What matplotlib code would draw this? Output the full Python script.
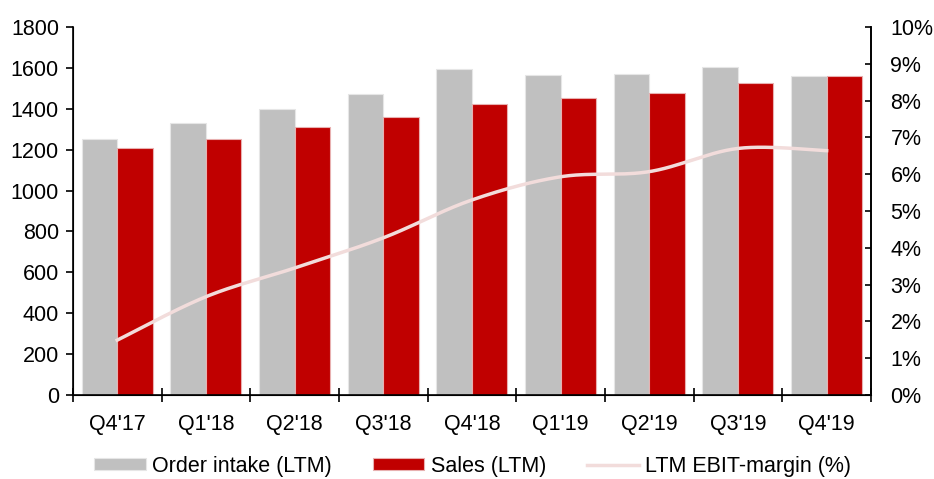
import numpy as np
import matplotlib.pyplot as plt
from matplotlib.ticker import FuncFormatter

plt.rcParams['font.family'] = ['Liberation Sans', 'DejaVu Sans']

quarters = ["Q4'17", "Q1'18", "Q2'18", "Q3'18", "Q4'18", "Q1'19", "Q2'19", "Q3'19", "Q4'19"]
order_intake = [1252, 1332, 1399, 1472, 1595, 1565, 1572, 1606, 1560]
sales = [1207, 1254, 1311, 1360, 1423, 1453, 1476, 1528, 1562]
ebit_margin = [1.49, 2.67, 3.45, 4.27, 5.30, 5.93, 6.07, 6.70, 6.64]


def smooth(xs, ys, n=30):
    # Excel-style smoothed line (Catmull-Rom through the points)
    xs = np.asarray(xs, float)
    ys = np.asarray(ys, float)
    px = np.concatenate([[xs[0]], xs, [xs[-1]]])
    py = np.concatenate([[ys[0]], ys, [ys[-1]]])
    ox, oy = [], []
    for i in range(1, len(px) - 2):
        t = np.linspace(0, 1, n)
        p0, p1, p2, p3 = px[i-1], px[i], px[i+1], px[i+2]
        q0, q1, q2, q3 = py[i-1], py[i], py[i+1], py[i+2]
        b1x, b1y = p1 + (p2 - p0) / 6, q1 + (q2 - q0) / 6
        b2x, b2y = p2 - (p3 - p1) / 6, q2 - (q3 - q1) / 6
        ox.append((1-t)**3*p1 + 3*(1-t)**2*t*b1x + 3*(1-t)*t**2*b2x + t**3*p2)
        oy.append((1-t)**3*q1 + 3*(1-t)**2*t*b1y + 3*(1-t)*t**2*b2y + t**3*q2)
    return np.concatenate(ox), np.concatenate(oy)


fs = 15.5
fig = plt.figure(figsize=(9.34, 4.79), dpi=100)
ax = fig.add_axes([0.078, 0.1754, 0.8545, 0.7682])
x = np.arange(len(quarters))
w = 0.4

ax.bar(x - w/2, order_intake, w, color='#C0C0C0', edgecolor='#E6E6E6', linewidth=0.8, label='Order intake (LTM)')
ax.bar(x + w/2, sales, w, color='#C00000', edgecolor='#E8B0B0', linewidth=0.8, label='Sales (LTM)')
ax.set_xlim(-0.5, len(quarters) - 0.5)
ax.set_ylim(0, 1800)
ax.set_yticks(range(0, 1801, 200))
ax.set_xticks(np.arange(-0.5, len(quarters), 1))
ax.set_xticklabels([])
ax.set_xticks(x, minor=True)
ax.set_xticklabels(quarters, minor=True)
ax.tick_params(axis='x', which='major', direction='inout', length=10, width=1.2)
ax.tick_params(axis='x', which='minor', length=0, pad=14, labelsize=fs)
ax.tick_params(axis='y', direction='out', length=5, width=1.2, labelsize=fs, pad=5)
ax.spines['top'].set_visible(False)
for s in ['left', 'right', 'bottom']:
    ax.spines[s].set_linewidth(1.2)

ax2 = ax.twinx()
sx, sy = smooth(x, ebit_margin)
ax2.plot(sx, sy, color='#F2DCDB', linewidth=2.5, label='LTM EBIT-margin (%)')
ax2.set_ylim(0, 10)
ax2.set_yticks(range(0, 11))
ax2.yaxis.set_major_formatter(FuncFormatter(lambda v, p: '%d%%' % v))
ax2.tick_params(axis='y', direction='in', length=4, width=1.2, labelsize=fs, pad=14)
ax2.spines['top'].set_visible(False)
ax2.spines['right'].set_linewidth(1.2)

h1, l1 = ax.get_legend_handles_labels()
h2, l2 = ax2.get_legend_handles_labels()
fig.legend(h1 + h2, l1 + l2, loc='lower center', bbox_to_anchor=(0.506, -0.036), ncol=3,
           frameon=False, fontsize=fs, handlelength=2.4, handleheight=0.5,
           columnspacing=1.9, handletextpad=0.3)

plt.savefig('out.png')
